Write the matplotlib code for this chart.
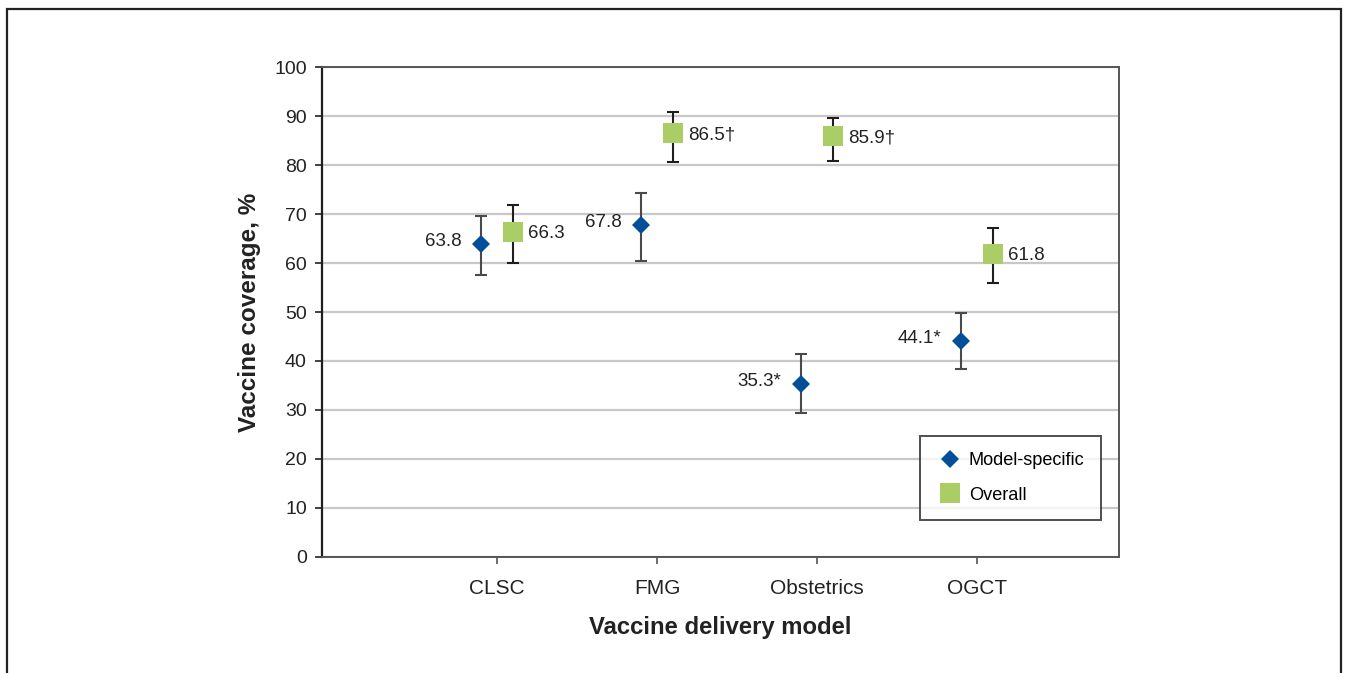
"""
plot.py

Vaccine coverage by delivery model: model-specific vs overall estimates
with confidence intervals.
"""

import matplotlib
matplotlib.use("Agg")
import matplotlib.pyplot as plt
from matplotlib.patches import Rectangle

# Categories on the x axis
models = ["CLSC", "FMG", "Obstetrics", "OGCT"]

# Model-specific coverage (%) and its interval
specific_values = [63.8, 67.8, 35.3, 44.1]
specific_low = [57.6, 60.4, 29.4, 38.4]
specific_high = [69.6, 74.3, 41.4, 49.8]
specific_labels = ["63.8", "67.8", "35.3*", "44.1*"]

# Overall coverage (%) and its interval
overall_values = [66.3, 86.5, 85.9, 61.8]
overall_low = [60.0, 80.6, 80.8, 55.9]
overall_high = [71.8, 90.8, 89.6, 67.1]
overall_labels = ["66.3", "86.5\u2020", "85.9\u2020", "61.8"]

y_ticks = list(range(0, 101, 10))

plt.rcParams["font.family"] = ["Liberation Sans", "DejaVu Sans"]

blue = "#004f98"
green = "#aacd66"

fig = plt.figure(figsize=(13.52, 6.73), dpi=100)
ax = fig.add_axes([0.2382, 0.1724, 0.5895, 0.728])

positions = list(range(1, len(models) + 1))
x_spec = [p - 0.1 for p in positions]
x_over = [p + 0.1 for p in positions]

# Error bar half-lengths
spec_err = [[v - lo for v, lo in zip(specific_values, specific_low)],
            [hi - v for v, hi in zip(specific_values, specific_high)]]
over_err = [[v - lo for v, lo in zip(overall_values, overall_low)],
            [hi - v for v, hi in zip(overall_values, overall_high)]]

ax.errorbar(x_spec, specific_values, yerr=spec_err, fmt="none",
            ecolor="#4a4a4a", elinewidth=1.5, capsize=4.5, capthick=1.5,
            zorder=3)
ax.errorbar(x_over, overall_values, yerr=over_err, fmt="none",
            ecolor="#1e1e1e", elinewidth=1.5, capsize=4.5, capthick=1.5,
            zorder=3)

ax.plot(x_spec, specific_values, linestyle="none", marker="D",
        markersize=9.4, color=blue, markeredgewidth=0, zorder=4,
        label="Model-specific")
ax.plot(x_over, overall_values, linestyle="none", marker="s",
        markersize=14, color=green, markeredgewidth=0, zorder=4,
        label="Overall")

# Value labels
for x, v, lab in zip(x_spec, specific_values, specific_labels):
    ax.annotate(lab, (x, v), xytext=(-14, 2), textcoords="offset points",
                ha="right", va="center", fontsize=13.5, color="#222222")
for x, v, lab in zip(x_over, overall_values, overall_labels):
    ax.annotate(lab, (x, v), xytext=(11, -1), textcoords="offset points",
                ha="left", va="center", fontsize=13.5, color="#222222")

ax.set_xlim(1 - 175 / 160, 4 + 142 / 160)
ax.set_ylim(0, 100)
ax.set_yticks(y_ticks)
ax.set_xticks(positions)
ax.set_xticklabels(models)
ax.tick_params(axis="both", colors="#222222", length=5, width=1.2)
ax.tick_params(axis="x", pad=11, color="#555555", labelsize=15)
ax.tick_params(axis="y", pad=6, labelsize=14)

ax.yaxis.grid(True, color="#c8c8c8", linewidth=1.6)
ax.set_axisbelow(True)

ax.spines["left"].set_color("#1e1e1e")
ax.spines["left"].set_linewidth(1.6)
for side in ["top", "right", "bottom"]:
    ax.spines[side].set_color("#555555")
    ax.spines[side].set_linewidth(1.4)

ax.set_ylabel("Vaccine coverage, %", fontsize=17.5, fontweight="bold",
              color="#222222")
ax.set_xlabel("Vaccine delivery model", fontsize=17.2, fontweight="bold",
              color="#222222")
ax.yaxis.set_label_coords(-0.076, 0.5)
ax.xaxis.set_label_coords(0.5, -0.121)

leg = ax.legend(loc="lower right", bbox_to_anchor=(0.977, 0.0755),
                fontsize=13.1, frameon=True, fancybox=False,
                borderpad=0.9, labelspacing=0.95, handletextpad=0.3,
                handlelength=1.5, borderaxespad=0)
leg.get_frame().set_edgecolor("#222222")
leg.get_frame().set_linewidth(1.4)

# Outer frame around the whole figure, open at the bottom
fig.patches.append(Rectangle((7 / 1352, -0.05), (1341 - 7) / 1352,
                             1.05 - 9 / 673, transform=fig.transFigure,
                             fill=False, edgecolor="#222222", linewidth=1.6))

fig.savefig("out.png", dpi=100)
plt.close(fig)
